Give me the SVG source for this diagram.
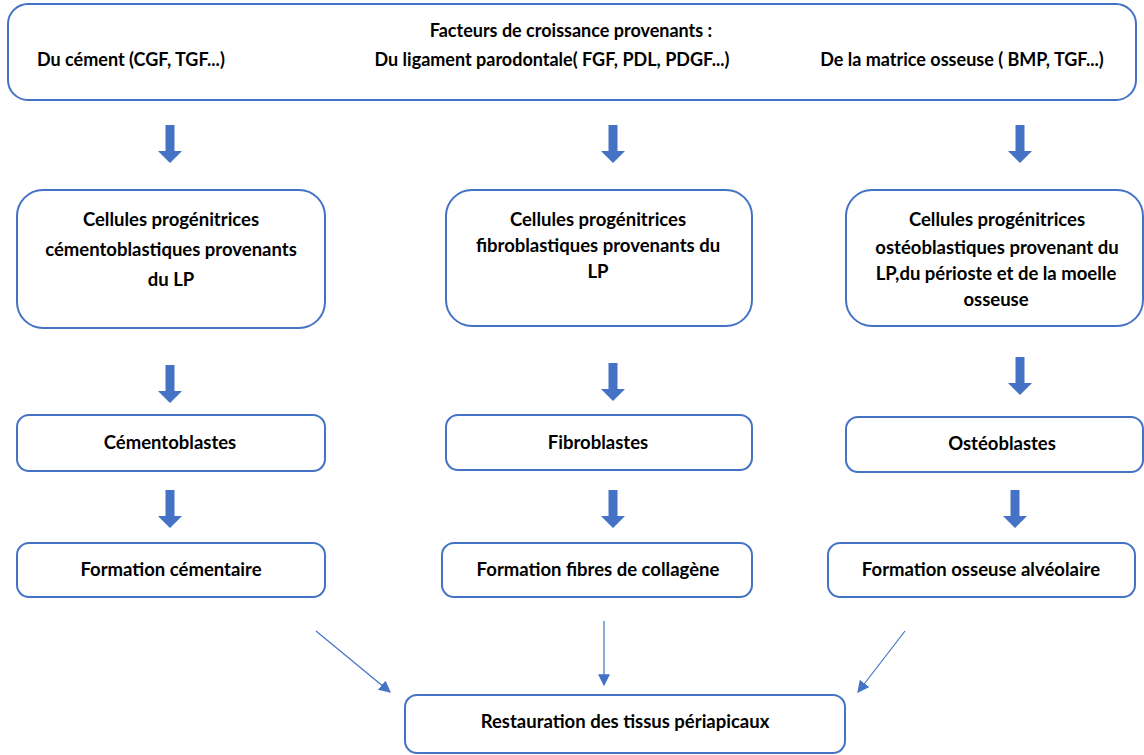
<svg xmlns="http://www.w3.org/2000/svg" width="1144" height="755" viewBox="0 0 1144 755">
<defs>
<style>
.box{fill:#fff;stroke:#4472C4;stroke-width:2}
.t{font-family:Lato,"Open Sans","Liberation Sans",sans-serif;font-weight:bold;font-size:18.5px;fill:#000;text-anchor:middle}
.top{font-size:18px}
.tl{text-anchor:start}
.ba{fill:#4472C4}
.ln{stroke:#4472C4;stroke-width:1.2;fill:none}
</style>
<path id="barrow" d="M-4.5,0 H4.5 V26 H12 L0,38 L-12,26 H-4.5 Z"/>
<marker id="ah" viewBox="0 0 10 10" refX="9" refY="5" markerWidth="12" markerHeight="12" markerUnits="userSpaceOnUse" orient="auto">
<path d="M0,0 L10,5 L0,10 Z" fill="#4472C4"/>
</marker>
</defs>
<rect width="1144" height="755" fill="#fff"/>

<g id="top">
<rect class="box" x="8" y="4" width="1128" height="96" rx="20"/>
<text class="t top" x="571" y="37">Facteurs de croissance provenants :</text>
<text class="t top tl" x="37" y="66">Du cément (CGF, TGF...)</text>
<text class="t top" x="552" y="66">Du ligament parodontale( FGF, PDL, PDGF...)</text>
<text class="t top" x="962" y="66">De la matrice osseuse ( BMP, TGF...)</text>
</g>

<g id="connectors">
<use href="#barrow" class="ba" x="170" y="125"/>
<use href="#barrow" class="ba" x="613" y="125"/>
<use href="#barrow" class="ba" x="1020" y="125"/>
<use href="#barrow" class="ba" x="170" y="365"/>
<use href="#barrow" class="ba" x="613" y="363"/>
<use href="#barrow" class="ba" x="1020" y="357"/>
<use href="#barrow" class="ba" x="170" y="490"/>
<use href="#barrow" class="ba" x="613" y="490"/>
<use href="#barrow" class="ba" x="1015" y="490"/>
<line class="ln" x1="316" y1="631" x2="390" y2="692" marker-end="url(#ah)"/>
<line class="ln" x1="604" y1="621" x2="604" y2="685" marker-end="url(#ah)"/>
<line class="ln" x1="905" y1="631" x2="858" y2="692" marker-end="url(#ah)"/>
</g>

<g id="prog1">
<rect class="box" x="17" y="190" width="308" height="138" rx="26"/>
<text class="t" x="171" y="226">Cellules progénitrices</text>
<text class="t" x="171" y="256">cémentoblastiques provenants</text>
<text class="t" x="171" y="286">du LP</text>
</g>
<g id="prog2">
<rect class="box" x="446" y="190" width="306" height="136" rx="26"/>
<text class="t" x="598" y="226">Cellules progénitrices</text>
<text class="t" x="598" y="252">fibroblastiques provenants du</text>
<text class="t" x="598" y="278">LP</text>
</g>
<g id="prog3">
<rect class="box" x="846" y="190" width="297" height="136" rx="26"/>
<text class="t" x="997" y="226">Cellules progénitrices</text>
<text class="t" x="997" y="254">ostéoblastiques provenant du</text>
<text class="t" x="996" y="280">LP,du périoste et de la moelle</text>
<text class="t" x="996" y="306">osseuse</text>
</g>

<g id="cemento">
<rect class="box" x="17" y="415" width="308" height="56" rx="12"/>
<text class="t" x="170" y="449">Cémentoblastes</text>
</g>
<g id="fibro">
<rect class="box" x="446" y="415" width="306" height="55" rx="12"/>
<text class="t" x="598" y="449">Fibroblastes</text>
</g>
<g id="osteo">
<rect class="box" x="846" y="417" width="297" height="55" rx="12"/>
<text class="t" x="1002" y="450">Ostéoblastes</text>
</g>

<g id="form1">
<rect class="box" x="17" y="543" width="308" height="54" rx="12"/>
<text class="t" x="171" y="576">Formation cémentaire</text>
</g>
<g id="form2">
<rect class="box" x="442" y="543" width="310" height="54" rx="12"/>
<text class="t" x="598" y="576">Formation fibres de collagène</text>
</g>
<g id="form3">
<rect class="box" x="828" y="543" width="307" height="54" rx="12"/>
<text class="t" x="981" y="576">Formation osseuse alvéolaire</text>
</g>

<g id="restauration">
<rect class="box" x="405" y="695" width="440" height="58" rx="12"/>
<text class="t" x="625" y="728">Restauration des tissus périapicaux</text>
</g>
</svg>
